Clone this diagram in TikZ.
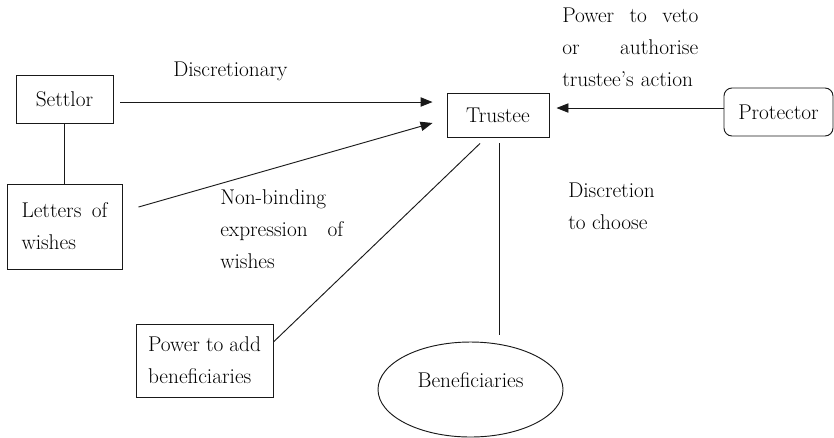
\documentclass[tikz,border=0pt]{standalone}
\usetikzlibrary{arrows.meta,shapes.geometric}
\begin{document}
\begin{tikzpicture}[x=0.75pt,y=-0.75pt,
  every node/.style={font=\fontsize{16}{24}\selectfont, inner sep=0pt, text=black},
  box/.style={draw=black!90, line width=0.7pt, rectangle},
  link/.style={draw=black!90, line width=0.7pt},
  arr/.style={link, -{Triangle[length=9pt,width=7pt]}},
  words/.style={align=left, anchor=north west}]
\useasboundingbox (0,0) rectangle (834,437);

% parties of the trust
\node[box, minimum width=72.75pt, minimum height=36pt] (settlor) at (64.5,99) {Settlor};
\node[box, minimum width=86.25pt, minimum height=63.75pt, text width=64.5pt, align=left]
  (letters) at (64.5,226.5) {Letters\hfill of\\ wishes};
\node[box, minimum width=76.5pt, minimum height=33pt] (trustee) at (498,115) {Trustee};
\node[box, rounded corners=6pt, minimum width=81.75pt, minimum height=36pt]
  (protector) at (778.5,112) {Protector};
\node[box, minimum width=102.75pt, minimum height=54.75pt, text width=84.75pt, align=left]
  (power) at (204.5,360.5) {Power\hfill to\hfill add\\ beneficiaries};
\node[draw=black!90, line width=0.7pt, ellipse, minimum width=138.75pt, minimum height=71.25pt,
  label={[yshift=7pt]center:Beneficiaries}] (bene) at (470.5,389.5) {};

% relationships
\draw[link] (settlor.south) -- (letters.north);
\draw[arr] ([xshift=5.25pt,yshift=-2.25pt]settlor.east) -- ([xshift=-10.5pt,yshift=9.75pt]trustee.west);
\draw[arr] ([xshift=12pt,yshift=14.6pt]letters.east) -- ([xshift=-10.5pt,yshift=-6pt]trustee.west);
\draw[arr] ([yshift=3pt]protector.west) -- ([xshift=5.25pt,yshift=5.25pt]trustee.east);
\draw[link] ([xshift=-13.5pt,yshift=-4.5pt]trustee.south) -- ([yshift=13.9pt]power.east);
\draw[link] ([xshift=0.75pt,yshift=-4.5pt]trustee.south) -- ([xshift=0.75pt,yshift=5.25pt]trustee.south |- bene.north);

% annotations
\node[anchor=base west] (tdisc) at (173,76) {Discretionary};
\node[words, text width=92.25pt] (tnonbind) at (220,189) {Non-binding\\ expression\hfill of\\ wishes};
\node[words, text width=102pt] (tveto) at (562,8) {Power\hfill to\hfill veto\\ or\hfill authorise\\ trustee's action};
\node[words] (tchoose) at (568,183) {Discretion\\ to choose};
\end{tikzpicture}
\end{document}
